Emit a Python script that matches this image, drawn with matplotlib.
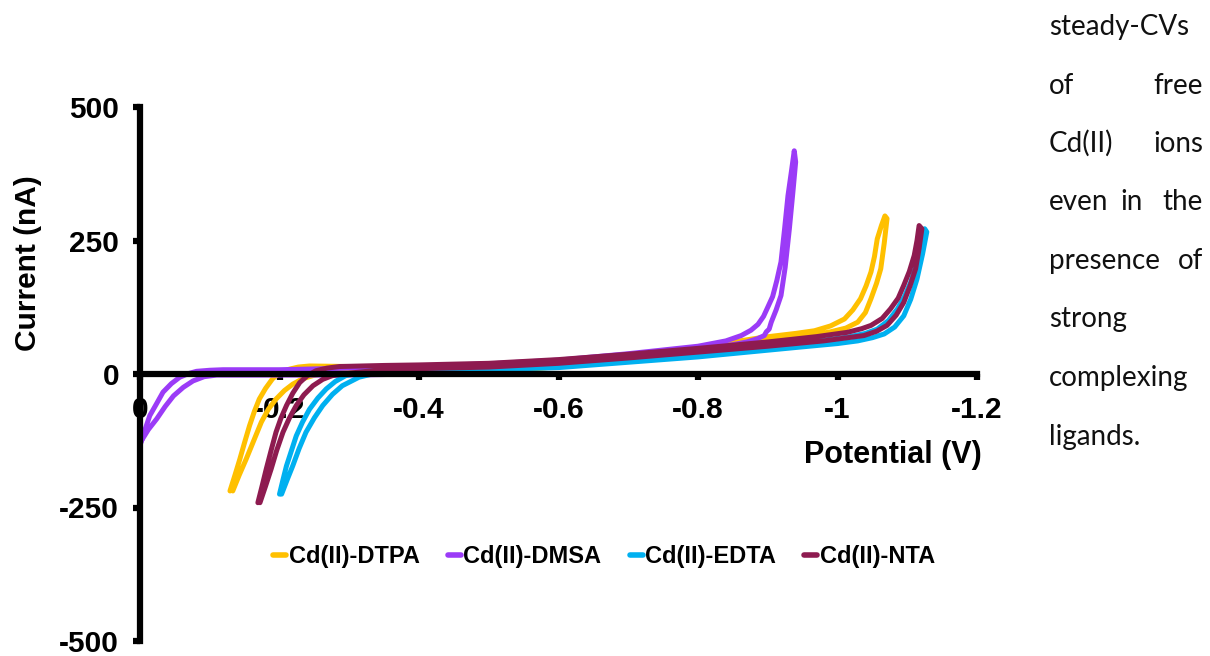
import numpy as np
import matplotlib
matplotlib.use('Agg')
import matplotlib.pyplot as plt

plt.rcParams['font.family'] = ['Liberation Sans', 'DejaVu Sans']
plt.rcParams['font.weight'] = 'bold'
plt.rcParams['axes.unicode_minus'] = False

# steady-state CVs, potential in V, current in nA
# each loop = cathodic branch + return branch
dtpa_fwd_v = [-0.129, -0.136, -0.143, -0.150, -0.157, -0.164, -0.171, -0.180, -0.190, -0.200, -0.214, -0.227, -0.243,
              -0.30, -0.40, -0.50, -0.60, -0.70, -0.80, -0.895, -0.940, -0.967, -0.990, -1.010, -1.022, -1.033,
              -1.041, -1.048, -1.053, -1.057, -1.063, -1.068]
dtpa_fwd_i = [-219, -190, -160, -128, -97, -70, -47, -27, -9, 2, 9, 13, 15,
              14, 12, 14, 22, 34, 50, 69, 76, 81, 90, 103, 120, 141,
              165, 191, 220, 253, 278, 296]
dtpa_rev_v = [-0.133, -0.142, -0.152, -0.163, -0.174, -0.184, -0.195, -0.207, -0.219, -0.233, -0.248, -0.276,
              -0.33, -0.40, -0.50, -0.60, -0.70, -0.80, -0.919, -0.960, -0.990, -1.012, -1.029, -1.040,
              -1.048, -1.056, -1.062, -1.067, -1.071]
dtpa_rev_i = [-219, -190, -160, -125, -90, -66, -47, -31, -19, -9, -3, 4,
              3, 0, 2, 14, 27, 42, 66, 72, 79, 86, 97, 115,
              141, 170, 197, 245, 291]

dmsa_fwd_v = [0.0, -0.007, -0.014, -0.024, -0.033, -0.045, -0.057, -0.070, -0.081, -0.100, -0.119,
              -0.20, -0.30, -0.40, -0.50, -0.60, -0.70, -0.80, -0.840, -0.862, -0.876, -0.886, -0.894,
              -0.900, -0.907, -0.913, -0.919, -0.924, -0.929, -0.934, -0.938]
dmsa_fwd_i = [-134, -105, -78, -55, -34, -18, -6, 1, 5, 7, 8,
              8, 11, 15, 19, 26, 38, 52, 62, 72, 82, 93, 108,
              125, 145, 175, 210, 270, 334, 380, 418]
dmsa_rev_v = [-0.002, -0.012, -0.024, -0.036, -0.048, -0.062, -0.076, -0.092, -0.110, -0.152,
              -0.20, -0.30, -0.40, -0.50, -0.60, -0.70, -0.80, -0.850, -0.870, -0.885, -0.895, -0.898,
              -0.902, -0.905, -0.912, -0.919, -0.925, -0.931, -0.936, -0.940]
dmsa_rev_i = [-125, -104, -84, -61, -41, -25, -13, -5, -2, -2,
              -2, -2, 0, 8, 19, 31, 44, 55, 60, 66, 72, 79,
              84, 97, 120, 147, 200, 272, 340, 397]

edta_fwd_v = [-0.200, -0.205, -0.210, -0.217, -0.224, -0.233, -0.243, -0.255, -0.267, -0.280, -0.295, -0.320,
              -0.35, -0.40, -0.50, -0.60, -0.70, -0.80, -0.90, -0.960, -1.014, -1.040, -1.057, -1.073,
              -1.086, -1.096, -1.105, -1.113, -1.119, -1.125]
edta_fwd_i = [-225, -198, -172, -144, -116, -90, -66, -45, -28, -14, -3, 4,
              8, 12, 14, 20, 30, 40, 52, 60, 69, 76, 84, 100,
              122, 145, 172, 205, 241, 272]
edta_rev_v = [-0.203, -0.211, -0.219, -0.228, -0.238, -0.250, -0.262, -0.276, -0.290, -0.314, -0.330,
              -0.35, -0.40, -0.50, -0.60, -0.70, -0.80, -0.943, -1.000, -1.029, -1.050, -1.067, -1.082,
              -1.095, -1.105, -1.114, -1.122, -1.128]
edta_rev_i = [-225, -198, -172, -140, -109, -82, -59, -38, -22, -6, -1,
              2, 5, 8, 12, 22, 32, 50, 57, 62, 68, 75, 88,
              109, 140, 178, 225, 266]

nta_fwd_v = [-0.169, -0.175, -0.181, -0.188, -0.195, -0.202, -0.210, -0.219, -0.229, -0.240, -0.252, -0.268, -0.286,
             -0.35, -0.40, -0.50, -0.60, -0.70, -0.80, -0.90, -0.970, -1.014, -1.035, -1.048, -1.064,
             -1.076, -1.087, -1.095, -1.103, -1.110, -1.114, -1.117]
nta_fwd_i = [-241, -210, -178, -143, -109, -83, -59, -36, -16, -3, 6, 11, 14,
             16, 17, 20, 27, 37, 48, 60, 70, 78, 85, 91, 104,
             122, 142, 166, 192, 222, 250, 278]
nta_rev_v = [-0.172, -0.180, -0.188, -0.196, -0.205, -0.214, -0.224, -0.235, -0.248, -0.262, -0.276, -0.310,
             -0.35, -0.40, -0.50, -0.60, -0.70, -0.80, -0.90, -0.980, -1.038, -1.056, -1.071, -1.084,
             -1.095, -1.104, -1.112, -1.117, -1.121]
nta_rev_i = [-241, -210, -178, -143, -109, -83, -59, -39, -22, -10, -3, 3,
             8, 10, 13, 20, 30, 41, 52, 62, 72, 80, 91, 110,
             134, 165, 197, 235, 272]

labels = ['Cd(II)-DTPA', 'Cd(II)-DMSA', 'Cd(II)-EDTA', 'Cd(II)-NTA']
colors = ['#FFC000', '#9B3BF7', '#00B0F0', '#8E1B50']

x_ticks = [0, -0.2, -0.4, -0.6, -0.8, -1.0, -1.2]
x_ticklabels = ['0', '-0.2', '-0.4', '-0.6', '-0.8', '-1', '-1.2']
y_ticks = [-500, -250, 0, 250, 500]

caption = [['steady-CVs'], ['of', 'free'], ['Cd(II)', 'ions'], ['even', 'in', 'the'],
           ['presence', 'of'], ['strong'], ['complexing'], ['ligands.']]

W, H = 1210, 656
fig = plt.figure(figsize=(W / 100, H / 100), dpi=100)
ax = fig.add_axes([140 / W, 1 - 641 / H, (977 - 140) / W, (641 - 107) / H])

cvs = [(dtpa_fwd_v, dtpa_fwd_i, dtpa_rev_v, dtpa_rev_i),
       (dmsa_fwd_v, dmsa_fwd_i, dmsa_rev_v, dmsa_rev_i),
       (edta_fwd_v, edta_fwd_i, edta_rev_v, edta_rev_i),
       (nta_fwd_v, nta_fwd_i, nta_rev_v, nta_rev_i)]

for (fv, fi, rv, ri), lab, col in zip(cvs, labels, colors):
    v = np.concatenate([fv, rv[::-1]])
    i = np.concatenate([fi, ri[::-1]])
    ax.plot(v, i, color=col, lw=3.6, solid_capstyle='round', solid_joinstyle='round',
            label=lab, clip_on=False)

ax.set_xlim(0, -1.2)
ax.set_ylim(-500, 500)
ax.spines['bottom'].set_position(('data', 0))
ax.spines['top'].set_visible(False)
ax.spines['right'].set_visible(False)
for s in ['left', 'bottom']:
    ax.spines[s].set_linewidth(4.5)
ax.set_xticks(x_ticks)
ax.set_xticklabels(x_ticklabels)
ax.set_yticks(y_ticks)
ax.tick_params(axis='x', direction='out', length=4.5, width=4.5, pad=11, labelsize=21.5)
ax.tick_params(axis='y', direction='out', length=5, width=4.5, pad=10, labelsize=21.5)

fig.text(893 / W, 1 - 455 / H, 'Potential (V)', ha='center', va='center', fontsize=22)
fig.text(28 / W, 1 - 263 / H, 'Current (nA)', ha='center', va='center', rotation=90, fontsize=21.5)

leg = fig.legend(loc='center', bbox_to_anchor=(604 / W, 1 - 557 / H), ncol=4, frameon=False,
                 prop={'weight': 'bold', 'size': 17}, handlelength=0.55, handletextpad=0.1,
                 columnspacing=1.2)
for h in leg.get_lines():
    h.set_linewidth(4)
    h.set_solid_capstyle('round')

# justified caption on the right
left_x, right_x = 1049, 1203
for k, words in enumerate(caption):
    y = 1 - (35 + 58.5 * k) / H
    kw = dict(fontfamily='Lato', fontweight='normal', fontsize=20, va='baseline', color='#111111')
    fig.text(left_x / W, y, words[0], ha='left', **kw)
    if len(words) == 2:
        fig.text(right_x / W, y, words[1], ha='right', **kw)
    elif len(words) == 3:
        fig.text(1132 / W, y, words[1], ha='center', **kw)
        fig.text(right_x / W, y, words[2], ha='right', **kw)

fig.savefig('out.png', dpi=100)
